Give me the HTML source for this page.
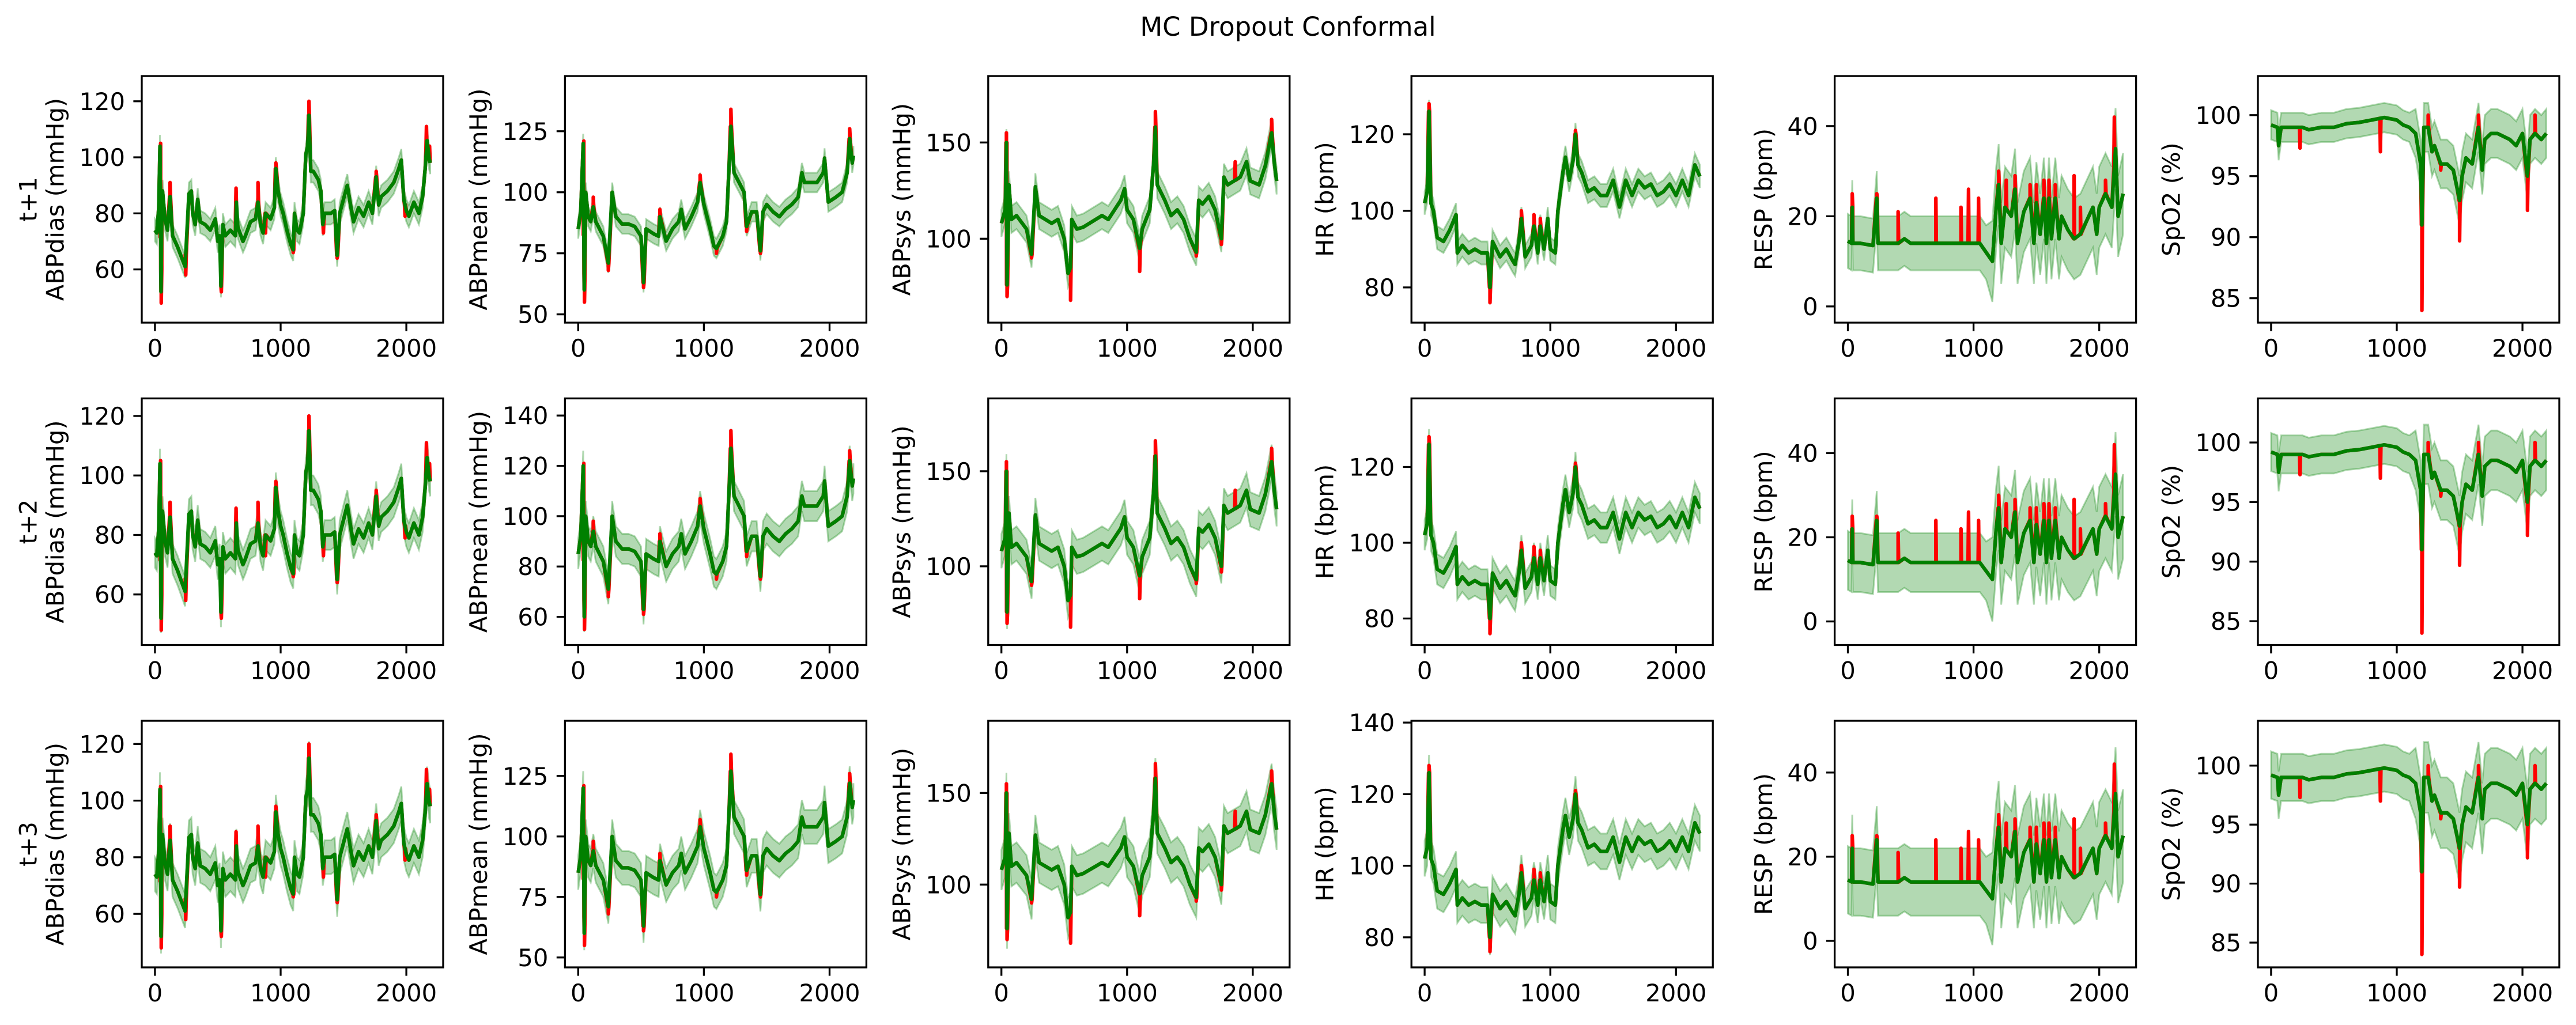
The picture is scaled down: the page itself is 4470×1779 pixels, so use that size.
<!DOCTYPE html>
<html><head><meta charset="utf-8"><title>MC Dropout Conformal</title>
<style>
html,body{margin:0;padding:0;background:#fff;}
svg{display:block;font-family:"DejaVu Sans","Liberation Sans",sans-serif;}
</style></head>
<body>
<svg id="fig" xmlns="http://www.w3.org/2000/svg" width="4470" height="1779" viewBox="0 0 4470 1779">
<rect width="4470" height="1779" fill="#fff"/>
<text x="2235" y="62" font-size="45" text-anchor="middle" fill="#000">MC Dropout Conformal</text>
</svg>
<script>
const rowLabels = ['t+1','t+2','t+3'];
const varLabels = ['ABPdias (mmHg)','ABPmean (mmHg)','ABPsys (mmHg)','HR (bpm)','RESP (bpm)','SpO2 (%)'];
const xTicks = [0,1000,2000];
const xDomain = [-105,2293];

const yDomains = [
 [[41,129],[46.6,147.6],[56.4,184.5],[70.8,135.2],[-3.6,51.1],[83,103.2]],
 [[43,125.9],[48.8,146.8],[58.6,188.3],[73,138.1],[-5.6,53],[83,103.7]],
 [[41.1,128.2],[45.9,147.8],[54.8,189.4],[71.6,140.5],[-6.3,52.3],[82.9,103.8]]
];
const yTicks = [
 [[60,80,100,120],[50,75,100,125],[100,150],[80,100,120],[0,20,40],[85,90,95,100]],
 [[60,80,100,120],[60,80,100,120,140],[100,150],[80,100,120],[0,20,40],[85,90,95,100]],
 [[60,80,100,120],[50,75,100,125],[100,150],[80,100,120,140],[0,20,40],[85,90,95,100]]
];

const abpdiasPred = [[0,74],[15,73],[30,82],[40,104],[48,52],[55,80],[60,88],[80,78],[100,74],[120,86],[140,72],[180,68],[240,61],[270,87],[290,88],[300,80],[320,76],[340,85],[360,77],[400,76],[440,74],[480,78],[500,70],[515,72],[525,54],[540,76],[560,72],[600,74],[640,72],[648,84],[660,75],[700,70],[720,72],[760,77],[800,78],[820,84],[840,76],[860,73],[880,80],[920,78],[950,82],[962,96],[980,88],[1000,83],[1020,80],[1050,74],[1080,69],[1100,67],[1110,80],[1130,74],[1150,73],[1180,80],[1200,101],[1215,104],[1225,115],[1240,95],[1260,95],[1300,92],[1320,88],[1335,76],[1350,80],[1400,80],[1430,81],[1450,65],[1470,80],[1500,85],[1530,90],[1560,82],[1580,77],[1620,82],[1660,79],[1700,84],[1730,80],[1760,93],[1780,83],[1800,86],[1850,88],[1900,91],[1940,96],[1960,99],[1980,85],[2000,81],[2020,79],[2060,84],[2100,80],[2130,86],[2150,96],[2165,106],[2180,100],[2190,98]];
const abpdiasSpikes = [[45,105],[50,48],[120,91],[245,58],[528,52],[645,89],[820,91],[880,73],[962,98],[1100,66],[1225,120],[1340,73],[1450,64],[1760,95],[1990,79],[2160,111],[2185,104]];

const abpmeanPred = [[0,85],[20,92],[40,120],[48,60],[60,100],[80,90],[100,88],[120,94],[140,88],[200,82],[240,71],[270,100],[300,90],[350,87],[400,87],[450,86],[500,82],[520,63],[540,85],[600,83],[640,82],[650,90],[700,80],[750,85],[800,88],[820,93],[850,85],[900,90],[950,96],[970,104],[1000,95],[1050,85],[1080,78],[1100,77],[1150,82],[1180,88],[1200,110],[1215,127],[1240,108],[1280,104],[1320,100],[1340,86],[1380,92],[1420,92],[1450,76],[1470,92],[1500,95],[1550,92],[1600,90],[1650,93],[1700,95],[1750,98],[1780,108],[1800,104],[1850,104],[1900,104],[1950,108],[1960,114],[1990,96],[2050,98],[2100,100],[2140,108],[2160,122],[2180,112],[2190,115]];
const abpmeanSpikes = [[45,121],[50,55],[120,98],[240,68],[520,61],[650,93],[970,107],[1100,75],[1215,134],[1340,84],[1450,75],[2160,126]];

const abpsysPred = [[0,108],[30,115],[40,150],[45,76],[60,128],[80,110],[120,112],[200,105],[240,92],[270,127],[300,112],[350,110],[400,108],[450,110],[500,100],[530,82],[550,85],[560,110],[600,105],[650,106],[700,108],[800,112],[850,110],[900,115],[950,120],[980,126],[1000,115],[1050,110],[1100,95],[1120,105],[1180,115],[1210,138],[1225,158],[1240,128],[1300,120],[1350,112],[1400,115],[1450,110],[1500,100],[1550,93],[1570,120],[1600,118],[1650,122],[1700,115],[1750,100],[1770,132],[1800,128],[1850,130],[1900,132],[1950,140],[1980,130],[2050,128],[2100,138],[2150,155],[2170,140],[2190,130]];
const abpsysSpikes = [[40,155],[45,70],[240,90],[550,68],[1100,83],[1225,166],[1550,91],[1750,97],[1860,140],[2150,162]];

const hrPred = [[0,102],[20,105],[35,126],[50,102],[70,100],[100,93],[150,92],[200,95],[250,99],[260,89],[300,91],[350,89],[400,90],[450,89],[500,89],[520,80],[540,92],[600,88],[650,90],[700,87],[720,86],[750,92],[770,98],[800,88],[850,91],[870,96],[900,89],[920,96],[950,90],[980,98],[1000,90],[1040,89],[1060,100],[1100,110],[1120,114],[1150,108],[1180,113],[1200,120],[1220,112],[1250,110],[1300,105],[1350,106],[1400,104],[1450,104],[1500,108],[1550,101],[1600,108],[1650,104],[1700,108],[1750,106],[1800,107],[1850,104],[1900,105],[1950,107],[2000,104],[2050,108],[2100,104],[2150,112],[2190,109]];
const hrSpikes = [[35,128],[520,76],[770,100],[870,99],[920,98],[1200,121]];

const respPred = [[0,14.5],[30,14],[35,22],[40,14],[100,14],[200,13.5],[230,24],[240,14],[300,14],[400,14],[450,15],[500,14],[600,14],[700,14],[800,14],[900,14],[1000,14],[1050,14],[1100,12],[1150,10],[1180,22],[1200,27],[1220,14],[1250,22],[1300,20],[1330,26],[1350,14],[1400,21],[1450,24],[1480,14],[1500,23],[1530,16],[1560,24],[1580,14],[1600,24],[1620,15],[1650,24],[1680,15],[1700,20],[1750,17],[1800,15],[1850,16],[1900,19],[1950,22],[1980,16],[2000,22],[2050,25],[2100,22],[2130,35],[2150,20],[2190,25]];
const respSpikes = [[35,25],[230,25],[400,21],[700,24],[900,22],[960,26],[1040,24],[1200,30],[1260,28],[1330,29],[1450,27],[1500,27],[1560,28],[1600,28],[1650,27],[1800,29],[1850,22],[2050,28],[2120,42]];

const spo2Pred = [[0,99.2],[50,99],[60,97.5],[80,99],[200,99],[250,99],[300,98.8],[400,99],[500,99],[600,99.3],[700,99.4],[800,99.6],[900,99.8],[1000,99.6],[1050,99.2],[1100,99],[1150,98.5],[1190,96],[1200,91],[1215,99],[1250,99],[1280,97],[1300,97.5],[1350,96],[1400,96],[1450,95.5],[1480,94],[1500,93],[1520,95],[1550,96.5],[1600,96],[1650,99],[1680,95.5],[1700,98],[1750,98.5],[1800,98.5],[1900,98],[1950,97.5],[2000,98.5],[2040,95],[2060,98],[2100,98.5],[2150,98],[2190,98.5]];
const spo2Spikes = [[230,97.3],[870,97],[1200,84],[1250,100],[1350,95.5],[1500,89.7],[1650,100],[2040,92.2],[2100,100]];

// band half-widths [x, w] step breakpoints, per row per column
const bandW = [
 [[[0,4]],[[0,4]],[[0,7]],[[0,3]],[[0,6],[1150,9]],[[0,1.2],[1150,2]]],
 [[[0,5]],[[0,6]],[[0,9]],[[0,4]],[[0,7],[1150,10]],[[0,1.6],[1150,2.5]]],
 [[[0,6]],[[0,7]],[[0,11]],[[0,5]],[[0,8],[1150,11]],[[0,2],[1150,3]]]
];

const predSeries = [abpdiasPred, abpmeanPred, abpsysPred, hrPred, respPred, spo2Pred];
const spikeSeries = [abpdiasSpikes, abpmeanSpikes, abpsysSpikes, hrSpikes, respSpikes, spo2Spikes];

const NS = 'http://www.w3.org/2000/svg';
const svg = document.getElementById('fig');
const panelTops = [132, 691.5, 1251];
const PW = 523, PH = 428;
const FS = 41.7;

function mk(tag, attrs, parent) {
  const e = document.createElementNS(NS, tag);
  for (const k in attrs) e.setAttribute(k, attrs[k]);
  (parent || svg).appendChild(e);
  return e;
}
function interp(arr, x) {
  if (x <= arr[0][0]) return arr[0][1];
  for (let i = 1; i < arr.length; i++) {
    if (x <= arr[i][0]) {
      const [x0, y0] = arr[i-1], [x1, y1] = arr[i];
      return y0 + (y1 - y0) * (x - x0) / (x1 - x0);
    }
  }
  return arr[arr.length-1][1];
}
function stepVal(arr, x) {
  let v = arr[0][1];
  for (const p of arr) if (x >= p[0]) v = p[1];
  return v;
}

for (let r = 0; r < 3; r++) {
  for (let c = 0; c < 6; c++) {
    const L = 246 + c * 734.4, T = panelTops[r];
    const [y0, y1] = yDomains[r][c];
    const sx = v => L + (v - xDomain[0]) / (xDomain[1] - xDomain[0]) * PW;
    const sy = v => T + PH - (v - y0) / (y1 - y0) * PH;

    const g = mk('g', {});
    
    

    const cid = 'clip' + r + '_' + c;
    const cp = mk('clipPath', {id: cid}, g);
    mk('rect', {x: L, y: T, width: PW, height: PH}, cp);
    const plot = mk('g', {'clip-path': 'url(#' + cid + ')'}, g);

    const pred = predSeries[c];
    const spikes = spikeSeries[c];
    const bw = bandW[r][c];

    // band
    const up = pred.map(p => [p[0], p[1] + stepVal(bw, p[0])]);
    const lo = pred.map(p => [p[0], p[1] - stepVal(bw, p[0])]);
    let d = 'M' + up.map(p => sx(p[0]).toFixed(1) + ',' + sy(p[1]).toFixed(1)).join('L');
    d += 'L' + lo.slice().reverse().map(p => sx(p[0]).toFixed(1) + ',' + sy(p[1]).toFixed(1)).join('L') + 'Z';
    const band = mk('path', {d: d, fill: 'rgb(0,128,0)', 'fill-opacity': 0.3, stroke: 'rgb(0,128,0)', 'stroke-opacity': 0.3, 'stroke-width': 3}, plot);
    
    

    // red true series = prediction + spikes
    const truePts = pred.map(p => [p[0], p[1]]);
    for (const s of spikes) {
      const b = interp(pred, s[0]);
      truePts.push([s[0] - 4, b], [s[0], s[1]], [s[0] + 4, b]);
    }
    truePts.sort((a, b) => a[0] - b[0]);
    const red = mk('path', {d: 'M' + truePts.map(p => sx(p[0]).toFixed(1) + ',' + sy(p[1]).toFixed(1)).join('L'), fill: 'none', stroke: '#ff0000', 'stroke-width': 6.25, 'stroke-linejoin': 'round'}, plot);
    
    

    const grn = mk('path', {d: 'M' + pred.map(p => sx(p[0]).toFixed(1) + ',' + sy(p[1]).toFixed(1)).join('L'), fill: 'none', stroke: '#008000', 'stroke-width': 6.25, 'stroke-linejoin': 'round'}, plot);
    
    

    // frame
    const fr = mk('rect', {x: L, y: T, width: PW, height: PH, fill: 'none', stroke: '#000', 'stroke-width': 3.3}, g);
    
    

    // x ticks
    for (const t of xTicks) {
      const x = sx(t);
      mk('line', {x1: x, x2: x, y1: T + PH, y2: T + PH + 14.6, stroke: '#000', 'stroke-width': 3.3}, g);
      const tx = mk('text', {x: x, y: T + PH + 29 + 30, 'font-size': FS, 'text-anchor': 'middle', fill: '#000'}, g);
      tx.textContent = t;
      
      
    }
    // y ticks
    for (const t of yTicks[r][c]) {
      const y = sy(t);
      mk('line', {x1: L - 14.6, x2: L, y1: y, y2: y, stroke: '#000', 'stroke-width': 3.3}, g);
      const ty = mk('text', {x: L - 29, y: y + 15, 'font-size': FS, 'text-anchor': 'end', fill: '#000'}, g);
      ty.textContent = t;
      
      
    }
    // y label
    const lx = L - (c === 4 ? 123 : 150), ly = T + PH / 2;
    const yl = mk('text', {x: lx, y: ly, 'font-size': FS, 'text-anchor': 'middle', 'dominant-baseline': 'central', transform: 'rotate(-90 ' + lx + ' ' + ly + ')', fill: '#000'}, g);
    yl.textContent = varLabels[c];
    
    
    if (c === 0) {
      const rx = L - 197;
      const rl = mk('text', {x: rx, y: ly, 'font-size': FS, 'text-anchor': 'middle', 'dominant-baseline': 'central', transform: 'rotate(-90 ' + rx + ' ' + ly + ')', fill: '#000'}, g);
      rl.textContent = rowLabels[r];
      
      
    }
  }
}
</script>
</body></html>
